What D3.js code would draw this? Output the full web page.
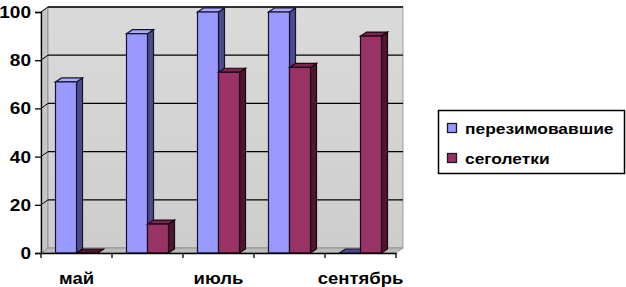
<!DOCTYPE html>
<html>
<head>
<meta charset="utf-8">
<script src="https://cdn.jsdelivr.net/npm/d3@7"></script>
<style>
  html, body { margin: 0; padding: 0; background: #fff; }
  svg { display: block; }
  text { font-family: "Liberation Sans", Arial, sans-serif; font-weight: bold; fill: #000; }
</style>
</head>
<body>
<svg id="chart" width="626" height="287"></svg>
<script>
// ── Data ──────────────────────────────────────────────────────────
const MONTHS   = ["май", "июнь", "июль", "август", "сентябрь"];
const SERIES   = ["перезимовавшие", "сеголетки"];
const OVERWINTERED = [71, 91, 100, 100, 0];
const YEARLINGS    = [0, 12, 75, 77, 90];
const Y_TICKS  = [0, 20, 40, 60, 80, 100];

// ── Styling ───────────────────────────────────────────────────────
const FACE = {
  "перезимовавшие": { front: "#9999ff", side: "#4c4c8c", top: "#aaaaff", stroke: "#14142e" },
  "сеголетки":      { front: "#993366", side: "#4e1630", top: "#7a2650", stroke: "#1a0610" },
};
const STRETCH = 1.12;          // source picture is a little wider than tall
const WALL = { dx: 7, dy: -5 };
const BAR  = { dx: 6, dy: -4 };

const svg = d3.select("#chart");

const x = d3.scaleBand().domain(MONTHS).range([41, 396]);
const xs = d3.scaleBand().domain(SERIES).range([0, x.bandwidth()]).paddingOuter(0.69);
const y = d3.scaleLinear().domain([0, 100]).range([253, 12]);

const x0 = x.range()[0], x1 = x.range()[1];
const yB = y(0), yT = y(100);

const pts = a => a.map(p => p.join(",")).join(" ");

// ── Walls ─────────────────────────────────────────────────────────
const walls = svg.append("g");
const wallGrad = svg.append("defs").append("linearGradient")
  .attr("id", "wallGrad").attr("x1", 0).attr("y1", 0).attr("x2", 0).attr("y2", 1);
wallGrad.append("stop").attr("offset", 0).attr("stop-color", "#dadada");
wallGrad.append("stop").attr("offset", 1).attr("stop-color", "#cdcdcd");

// side wall
walls.append("polygon")
  .attr("points", pts([[x0, yB], [x0, yT], [x0 + WALL.dx, yT + WALL.dy], [x0 + WALL.dx, yB + WALL.dy]]))
  .attr("fill", "#c6c6c6").attr("stroke", "#8a8a8a").attr("stroke-width", 0.8);
// back wall
walls.append("rect")
  .attr("x", x0 + WALL.dx).attr("y", yT + WALL.dy)
  .attr("width", x1 - x0).attr("height", yB - yT)
  .attr("fill", "url(#wallGrad)").attr("stroke", "#8a8a8a").attr("stroke-width", 0.8);
// floor
walls.append("polygon")
  .attr("points", pts([[x0, yB], [x1, yB], [x1 + WALL.dx, yB + WALL.dy], [x0 + WALL.dx, yB + WALL.dy]]))
  .attr("fill", "#bcbcbc").attr("stroke", "#8a8a8a").attr("stroke-width", 0.8);

// gridlines on the back wall + connectors on the side wall
Y_TICKS.filter(v => v > 0).forEach(v => {
  walls.append("line")
    .attr("x1", x0 + WALL.dx).attr("x2", x1 + WALL.dx)
    .attr("y1", y(v) + WALL.dy).attr("y2", y(v) + WALL.dy)
    .attr("stroke", "#000").attr("stroke-width", 1.3);
  walls.append("line")
    .attr("x1", x0).attr("x2", x0 + WALL.dx)
    .attr("y1", y(v)).attr("y2", y(v) + WALL.dy)
    .attr("stroke", "#000").attr("stroke-width", 1);
});

// ── Bars ──────────────────────────────────────────────────────────
const rows = [];
MONTHS.forEach((m, i) => {
  rows.push({ month: m, key: SERIES[0], value: OVERWINTERED[i] });
  rows.push({ month: m, key: SERIES[1], value: YEARLINGS[i] });
});

const bars = svg.append("g").selectAll("g")
  .data(rows)
  .join("g");

bars.each(function (d) {
  const g = d3.select(this);
  const c = FACE[d.key];
  const l = x(d.month) + xs(d.key);
  const r = l + xs.bandwidth();
  const t = y(d.value);
  // side
  g.append("polygon")
    .attr("points", pts([[r, yB], [r, t], [r + BAR.dx, t + BAR.dy], [r + BAR.dx, yB + BAR.dy]]))
    .attr("fill", c.side).attr("stroke", c.stroke).attr("stroke-width", 1.2);
  // top
  g.append("polygon")
    .attr("points", pts([[l, t], [r, t], [r + BAR.dx, t + BAR.dy], [l + BAR.dx, t + BAR.dy]]))
    .attr("fill", d.value === 0 ? c.side : c.top).attr("stroke", c.stroke).attr("stroke-width", 1.2);
  // front
  if (d.value > 0) {
    g.append("rect")
      .attr("x", l).attr("y", t)
      .attr("width", r - l).attr("height", yB - t)
      .attr("fill", c.front).attr("stroke", c.stroke).attr("stroke-width", 1.2);
  }
});

// ── Axes ──────────────────────────────────────────────────────────
const yAxis = svg.append("g").attr("transform", `translate(${x0},0)`)
  .call(d3.axisLeft(y).tickValues(Y_TICKS).tickSize(6).tickPadding(4));
yAxis.select(".domain").attr("stroke", "#000").attr("stroke-width", 1.3);
yAxis.selectAll(".tick line").attr("stroke", "#000").attr("stroke-width", 1.3);
yAxis.selectAll(".tick text")
  .attr("font-size", 17).attr("fill", "#000")
  .attr("font-family", null);

const xAxis = svg.append("g").attr("transform", `translate(0,${yB})`)
  .call(d3.axisBottom(x).tickSize(0).tickPadding(19)
    .tickFormat((d, i) => i % 2 === 0 ? d : ""));
xAxis.select(".domain").attr("stroke", "#000").attr("stroke-width", 1.3);
xAxis.selectAll(".tick text")
  .attr("font-size", 16.5).attr("fill", "#000")
  .attr("font-family", null);

// category boundary ticks
svg.append("g").selectAll("line")
  .data(MONTHS.map(m => x(m)).concat([x1]))
  .join("line")
    .attr("x1", d => d).attr("x2", d => d)
    .attr("y1", yB).attr("y2", yB + 5)
    .attr("stroke", "#000").attr("stroke-width", 1.3);

// ── Legend ────────────────────────────────────────────────────────
const legend = svg.append("g");
legend.append("rect")
  .attr("x", 438.5).attr("y", 110.5).attr("width", 186).attr("height", 63)
  .attr("fill", "#fff").attr("stroke", "#000").attr("stroke-width", 1.5);

SERIES.forEach((s, i) => {
  const ly = 123 + i * 30;
  legend.append("rect")
    .attr("x", 447.5).attr("y", ly + 0.5).attr("width", 9).attr("height", 9)
    .attr("fill", FACE[s].front).attr("stroke", "#1a1a30").attr("stroke-width", 1.3);
  legend.append("text")
    .attr("x", 465).attr("y", ly + 11)
    .attr("font-size", 15.5)
    .text(s);
});

// horizontal stretch of all text, like the source picture
svg.selectAll("text").each(function () {
  const w = this.getComputedTextLength();
  if (w > 0) {
    d3.select(this)
      .attr("textLength", w * STRETCH)
      .attr("lengthAdjust", "spacingAndGlyphs");
  }
});
</script>
</body>
</html>
